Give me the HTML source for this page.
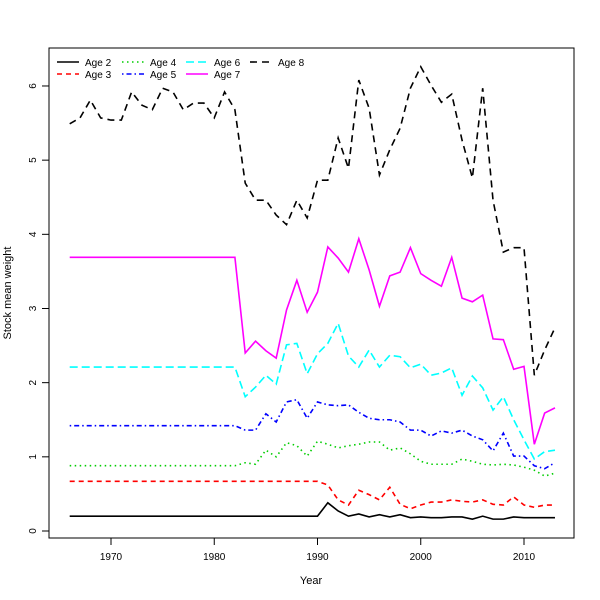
<!DOCTYPE html>
<html><head><meta charset="utf-8"><style>
body{margin:0;background:#fff}
svg{display:block;font-family:"Liberation Sans",sans-serif}
</style></head><body>
<svg id="chart" width="600" height="600" viewBox="0 0 600 600">
<rect x="0" y="0" width="600" height="600" fill="#fff"/>
<rect x="49" y="48" width="525" height="490" fill="none" stroke="#000" stroke-width="1"/>
<g id="axes"></g>
<g id="series"></g>
<g id="legend"></g>
<text x="311" y="584" font-size="11" text-anchor="middle">Year</text>
<text transform="translate(11,293) rotate(-90)" font-size="11" text-anchor="middle">Stock mean weight</text>
</svg>
<script>
const years=[];for(let y=1966;y<=2013;y++)years.push(y);
const xTicks=[1970,1980,1990,2000,2010];
const yTicks=[0,1,2,3,4,5,6];
const seriesNames=["Age 2","Age 3","Age 4","Age 5","Age 6","Age 7","Age 8"];
const age2=[0.20,0.20,0.20,0.20,0.20,0.20,0.20,0.20,0.20,0.20,0.20,0.20,0.20,0.20,0.20,0.20,0.20,0.20,0.20,0.20,0.20,0.20,0.20,0.20,0.20,0.38,0.27,0.20,0.23,0.19,0.22,0.19,0.22,0.18,0.19,0.18,0.18,0.19,0.19,0.16,0.20,0.16,0.16,0.19,0.18,0.18,0.18,0.18];
const age3=[0.67,0.67,0.67,0.67,0.67,0.67,0.67,0.67,0.67,0.67,0.67,0.67,0.67,0.67,0.67,0.67,0.67,0.67,0.67,0.67,0.67,0.67,0.67,0.67,0.67,0.62,0.42,0.35,0.55,0.49,0.42,0.59,0.36,0.30,0.35,0.39,0.39,0.42,0.40,0.39,0.42,0.36,0.35,0.46,0.35,0.32,0.35,0.35];
const age4=[0.88,0.88,0.88,0.88,0.88,0.88,0.88,0.88,0.88,0.88,0.88,0.88,0.88,0.88,0.88,0.88,0.88,0.92,0.90,1.09,1.00,1.19,1.15,1.01,1.21,1.17,1.12,1.15,1.17,1.20,1.20,1.09,1.12,1.04,0.94,0.90,0.90,0.90,0.97,0.94,0.90,0.89,0.90,0.89,0.86,0.82,0.74,0.78];
const age5=[1.42,1.42,1.42,1.42,1.42,1.42,1.42,1.42,1.42,1.42,1.42,1.42,1.42,1.42,1.42,1.42,1.42,1.36,1.36,1.58,1.47,1.74,1.77,1.52,1.74,1.70,1.69,1.70,1.60,1.52,1.50,1.50,1.47,1.36,1.36,1.28,1.35,1.32,1.36,1.28,1.23,1.08,1.32,1.01,1.01,0.88,0.84,0.92];
const age6=[2.21,2.21,2.21,2.21,2.21,2.21,2.21,2.21,2.21,2.21,2.21,2.21,2.21,2.21,2.21,2.21,2.21,1.81,1.94,2.10,1.98,2.51,2.53,2.12,2.39,2.53,2.80,2.36,2.21,2.44,2.21,2.37,2.35,2.20,2.25,2.10,2.13,2.20,1.83,2.09,1.93,1.63,1.81,1.50,1.23,0.97,1.07,1.09];
const age7=[3.69,3.69,3.69,3.69,3.69,3.69,3.69,3.69,3.69,3.69,3.69,3.69,3.69,3.69,3.69,3.69,3.69,2.40,2.56,2.43,2.33,2.98,3.38,2.95,3.22,3.83,3.68,3.49,3.94,3.52,3.03,3.44,3.49,3.82,3.47,3.38,3.30,3.69,3.14,3.09,3.18,2.59,2.58,2.18,2.22,1.17,1.59,1.66];
const age8=[5.49,5.57,5.81,5.57,5.54,5.54,5.92,5.74,5.68,5.97,5.92,5.68,5.77,5.77,5.57,5.92,5.68,4.69,4.46,4.46,4.26,4.13,4.46,4.22,4.73,4.73,5.30,4.89,6.08,5.70,4.80,5.14,5.43,5.97,6.26,6.01,5.78,5.89,5.27,4.76,5.97,4.46,3.76,3.82,3.82,2.10,2.44,2.74];
const allSeries=[age2,age3,age4,age5,age6,age7,age8];
const colors=["#000","#ff0000","#00cd00","#0000ff","#00ffff","#ff00ff","#000"];
const dashes=["","5,4","1.5,3.5","1.5,3,5,3","8,4","","7,5"];
const NS="http://www.w3.org/2000/svg";
const sx=y=>111+(y-1970)*10.325;
const sy=v=>531-v*74.17;
function mk(t,a,p){const e=document.createElementNS(NS,t);for(const k in a)e.setAttribute(k,a[k]);p.appendChild(e);return e;}
const axes=document.getElementById('axes');
mk('line',{x1:sx(1970),x2:sx(2010),y1:538,y2:538,stroke:'#000'},axes);
xTicks.forEach(t=>{mk('line',{x1:sx(t),x2:sx(t),y1:538,y2:545,stroke:'#000'},axes);
const tx=mk('text',{x:sx(t),y:560,'font-size':10,'text-anchor':'middle'},axes);tx.textContent=t;

});
mk('line',{x1:49,x2:49,y1:sy(0),y2:sy(6),stroke:'#000'},axes);
yTicks.forEach(t=>{mk('line',{x1:42,x2:49,y1:sy(t),y2:sy(t),stroke:'#000'},axes);
const tx=mk('text',{transform:`translate(36,${sy(t)}) rotate(-90)`,'font-size':10,'text-anchor':'middle'},axes);tx.textContent=t;

});
const sg=document.getElementById('series');
allSeries.forEach((s,i)=>{
const p=mk('polyline',{points:s.map((v,j)=>sx(years[j])+','+sy(v)).join(' '),fill:'none',stroke:colors[i],'stroke-width':1.6,'stroke-dasharray':dashes[i]},sg);

});
const lg=document.getElementById('legend');
const pos=[[57,62],[57,74],[122,62],[122,74],[186,62],[186,74],[250,62]];
seriesNames.forEach((n,i)=>{const [x,y]=pos[i];
const g=mk('g',{},lg);


mk('line',{x1:x,x2:x+22,y1:y,y2:y,stroke:colors[i],'stroke-width':1.6,'stroke-dasharray':dashes[i]},g);
const t=mk('text',{x:x+28,y:y+4,'font-size':10},g);t.textContent=n;});
</script>
</body></html>
